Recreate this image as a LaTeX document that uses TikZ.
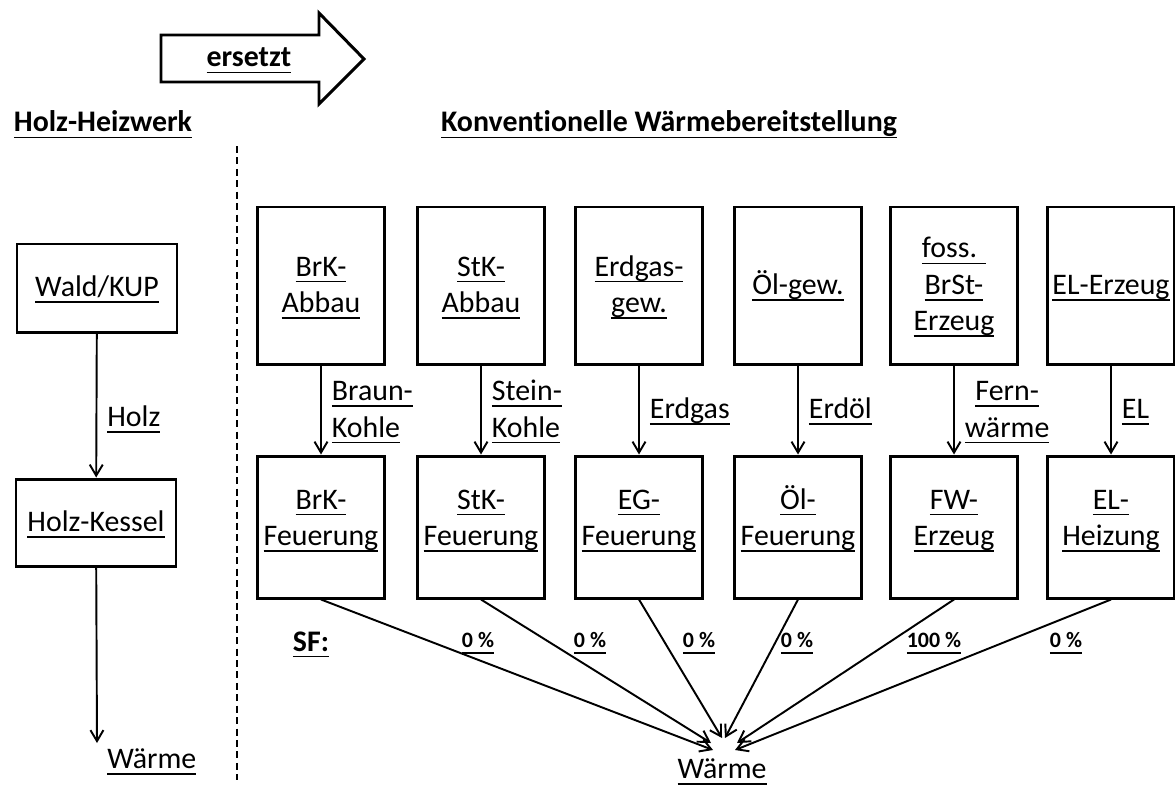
\documentclass[tikz,border=0pt]{standalone}
\usepackage{fontspec}
\setmainfont{Carlito}[Ligatures=NoCommon]
\usetikzlibrary{arrows.meta}
\newcommand{\ulw}[1]{\setbox0\hbox{\vphantom{Ög}#1}\leavevmode\rlap{\rule[-3.6pt]{\wd0}{1pt}}\box0}

\begin{document}
\fontsize{17pt}{20.7pt}\selectfont
\begin{tikzpicture}[
    box/.style={draw, line width=1.7pt, minimum width=2.54cm, align=center, inner sep=0pt},
    topbox/.style={box, minimum height=3.14cm},
    lowbox/.style={box, minimum height=2.84cm},
    lowtext/.style={align=center, yshift=0.17cm},
    flow/.style={-{Straight Barb[length=2.2mm,width=2.6mm]}, line width=1.1pt},
    lab/.style={right, align=left},
    head/.style={font=\bfseries},
    pct/.style={font=\fontsize{12.5pt}{14pt}\selectfont\bfseries}
  ]
  \useasboundingbox (0,0) rectangle (23.5,-15.7);
    % arrow on top
  \draw[line width=1.7pt] (3.22,-0.70) -- (6.38,-0.70) -- (6.38,-0.26) -- (7.28,-1.18)
    -- (6.38,-2.08) -- (6.38,-1.64) -- (3.22,-1.64) -- cycle;
  \node[head] (ER) at (4.98,-1.16) {\ulw{ersetzt}};
  \node[head] (HH) at (2.06,-2.46) {\ulw{Holz-Heizwerk}};
  \node[head] (KW) at (13.38,-2.46) {\ulw{Konventionelle Wärmebereitstellung}};
  \draw[dashed, line width=1pt, dash pattern=on 4pt off 2.5pt] (4.74,-2.92) -- (4.74,-15.6);
    % Holz-Heizwerk
  \node[box, minimum width=3.2cm, minimum height=1.76cm] (WK) at (1.94,-5.76) {\ulw{Wald/KUP}};
  \node[box, minimum width=3.2cm, minimum height=1.74cm] (HK) at (1.92,-10.45) {\ulw{Holz-Kessel}};
  \coordinate (HW) at (1.94,-14.86);
  \node[anchor=west] (WL) at (1.94,-15.2) {\ulw{Wärme}};
  \draw[flow] (WK) -- node[lab, pos=0.585] {\ulw{Holz}} (HK);
  \draw[flow] (HK) -- (HW);
    % Konventionelle Waermebereitstellung
  \node[topbox] (A1) at (6.42,-5.71) {\ulw{BrK-}\\\ulw{Abbau}};
  \node[topbox] (A2) at (9.62,-5.71) {\ulw{StK-}\\\ulw{Abbau}};
  \node[topbox] (A3) at (12.78,-5.71) {\ulw{Erdgas-}\\\ulw{gew.}};
  \node[topbox] (A4) at (15.96,-5.71) {\ulw{Öl-gew.}};
  \node[topbox] (A5) at (19.08,-5.71) {\ulw{foss. }\\\ulw{BrSt-}\\\ulw{Erzeug}};
  \node[topbox] (A6) at (22.22,-5.71) {\ulw{EL-Erzeug}};
  \node[lowbox, label={[lowtext]center:{\ulw{BrK-}\\\ulw{Feuerung}}}] (F1) at (6.42,-10.54) {};
  \node[lowbox, label={[lowtext]center:{\ulw{StK-}\\\ulw{Feuerung}}}] (F2) at (9.62,-10.54) {};
  \node[lowbox, label={[lowtext]center:{\ulw{EG-}\\\ulw{Feuerung}}}] (F3) at (12.78,-10.54) {};
  \node[lowbox, label={[lowtext]center:{\ulw{Öl-}\\\ulw{Feuerung}}}] (F4) at (15.96,-10.54) {};
  \node[lowbox, label={[lowtext]center:{\ulw{FW-}\\\ulw{Erzeug}}}] (F5) at (19.08,-10.54) {};
  \node[lowbox, label={[lowtext]center:{\ulw{EL-}\\\ulw{Heizung}}}] (F6) at (22.22,-10.54) {};
  \draw[flow] (A1) -- node[lab] {\ulw{Braun-}\\\ulw{Kohle}} (F1);
  \draw[flow] (A2) -- node[lab] {\ulw{Stein-}\\\ulw{Kohle}} (F2);
  \draw[flow] (A3) -- node[lab] {\ulw{Erdgas}} (F3);
  \draw[flow] (A4) -- node[lab] {\ulw{Erdöl}} (F4);
  \draw[flow] (A5) -- node[lab, align=center] {\ulw{Fern-}\\\ulw{wärme}} (F5);
  \draw[flow] (A6) -- node[lab] {\ulw{EL}} (F6);
    % SF
  \node[head] (SF) at (6.22,-12.84) {\ulw{SF:}};
  \node[pct] (P1) at (9.56,-12.84) {\ulw{0 \%}};
  \node[pct] (P2) at (11.8,-12.84) {\ulw{0 \%}};
  \node[pct] (P3) at (13.98,-12.84) {\ulw{0 \%}};
  \node[pct] (P4) at (15.94,-12.84) {\ulw{0 \%}};
  \node[pct] (P5) at (18.68,-12.84) {\ulw{100 \%}};
  \node[pct] (P6) at (21.32,-12.84) {\ulw{0 \%}};
  \coordinate (W) at (14.48,-14.8);
  \node (WB) at (14.44,-15.4) {\ulw{Wärme}};
  \draw[flow] (F1.south) -- ([shift={(-0.22,-0.2)}]W);
  \draw[flow] (F2.south) -- ([shift={(-0.26,-0.06)}]W);
  \draw[flow] (F3.south) -- ([shift={(-0.04,0.04)}]W);
  \draw[flow] (F4.south) -- ([shift={(0.02,0.04)}]W);
  \draw[flow] (F5.south) -- ([shift={(0.26,-0.06)}]W);
  \draw[flow] (F6.south) -- ([shift={(0.22,-0.2)}]W);
\end{tikzpicture}
\end{document}
